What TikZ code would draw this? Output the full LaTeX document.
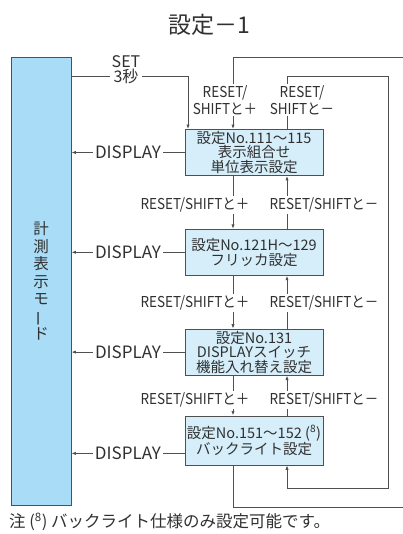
\documentclass[tikz,border=0pt]{standalone}
\usepackage{fontspec}
\usepackage{graphicx}
\setmainfont{Noto Sans CJK JP}
\newfontfamily\narrowjp[FakeStretch=0.9]{Noto Sans CJK JP}
\usetikzlibrary{positioning,arrows.meta,calc}
\definecolor{modeblue}{HTML}{A9DCF6}
\definecolor{boxblue}{HTML}{D5EEFA}
\definecolor{linegray}{HTML}{505050}
\definecolor{textgray}{HTML}{303030}
\tikzset{
  >={Latex[length=4.5pt,width=3.2pt]},
  modebox/.style={draw=linegray,fill=modeblue,line width=0.8pt,minimum width=60pt,
    minimum height=448pt,align=center,inner sep=0pt,
    font=\fontsize{15.5}{17.5}\selectfont},
  setbox/.style={draw=linegray,fill=boxblue,line width=0.8pt,minimum width=138pt,
    minimum height=46pt,align=center,inner xsep=2pt,inner ysep=0.5pt,
    font=\fontsize{14.5}{14.5}\selectfont},
  flow/.style={->,draw=linegray,line width=0.8pt},
  keylbl/.style={fill=white,inner sep=1.5pt,align=center,
    font=\narrowjp\fontsize{15}{17}\selectfont},
  displbl/.style={fill=white,inner sep=2pt,font=\fontsize{17}{18}\selectfont},
  setlbl/.style={fill=white,inner sep=2pt,align=center,
    font=\fontsize{16}{15}\selectfont},
}
\begin{document}
\begin{tikzpicture}[x=1pt,y=-1pt,text=textgray]
  \path[use as bounding box] (0,0) rectangle (403,534);
  \clip (0,0) rectangle (403,534);
  \node[font=\fontsize{23}{25}\selectfont] (title) at (209,25) {設定－1};
  % measuring mode on the left
  \node[modebox] (mode) at (41,281)
    {計\\測\\表\\示\\モ\\\rotatebox[origin=c]{90}{ー}\\ド};
  % setting boxes
  \node[setbox] (b1) at (254,152.5) {設定No.111〜115\\表示組合せ\\単位表示設定};
  \node[setbox,below=53pt of b1] (b2) {設定No.121H〜129\\フリッカ設定};
  \node[setbox,below=53pt of b2] (b3) {設定No.131\\DISPLAYスイッチ\\機能入れ替え設定};
  \node[setbox,below=40pt of b3,minimum height=49pt] (b4)
    {設定No.151〜152 (\textsuperscript{8})\\バックライト設定};
  \coordinate (dn) at (233,0);
  \coordinate (up) at (287,0);
  % SET 3 s
  \coordinate (settop) at (188,76);
  \draw[flow] (settop -| mode.east) -- (settop) -- (settop |- b1.north);
  \node[setlbl] (setl) at (126,70) {SET\\3秒};
  % steps between the boxes
  \foreach \a/\b/\y in {b1/b2/205,b2/b3/303,b3/b4/400} {
    \draw[flow] (\a.south -| dn) -- (\b.north -| dn);
    \draw[flow] (\b.north -| up) -- (\a.south -| up);
    \node[keylbl] at (195,\y) {RESET/SHIFTと＋};
    \node[keylbl] at (324,\y) {RESET/SHIFTと－};
  }
  % back to the mode
  \foreach \b/\dy in {b1/0,b2/0,b3/0,b4/13} {
    \coordinate (d\b) at ($(\b.west)+(0,\dy)$);
    \draw[flow] (d\b) -- (d\b -| mode.east) node[displbl,midway] {DISPLAY};
  }
  % wrap round
  \draw[flow] (b4.south -| dn) |- (410,507) -- (410,57) -| (b1.north -| dn);
  \draw[flow] (b1.north -| up) |- (388,76) -- (388,488) -| (b4.south -| up);
  \node[keylbl] (plusl) at (225,100) {RESET/\\SHIFTと＋};
  \node[keylbl] (minusl) at (302,100) {RESET/\\SHIFTと－};
  % footnote
  \node[anchor=west,inner sep=0pt,font=\fontsize{16.5}{17}\selectfont] (note) at (9,522)
    {注 (\textsuperscript{8}) バックライト仕様のみ設定可能です。};
\end{tikzpicture}
\end{document}
